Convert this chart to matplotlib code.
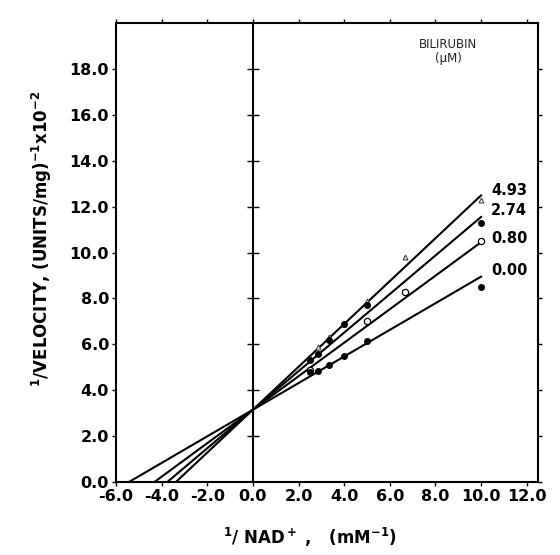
import numpy as np
import matplotlib
matplotlib.use('Agg')
import matplotlib.pyplot as plt

plt.rcParams['font.family'] = ['DejaVu Sans']
plt.rcParams['mathtext.fontset'] = 'dejavusans'
plt.rcParams['mathtext.default'] = 'bf'

# Lineweaver-Burk data (x = 1/[NAD+], y = 1/v x 10^-2)
bilirubin = ['4.93', '2.74', '0.80', '0.00']
y_intercept = 3.15
slopes = [0.934, 0.84, 0.73, 0.58]

x_493 = [2.5, 2.86, 3.33, 4.0, 5.0, 6.67, 10.0]
y_493 = [5.4, 5.9, 6.3, 6.9, 7.9, 9.8, 12.3]
x_274 = [2.5, 2.86, 3.33, 4.0, 5.0, 10.0]
y_274 = [5.3, 5.6, 6.2, 6.9, 7.7, 11.3]
x_080 = [2.5, 5.0, 6.67, 10.0]
y_080 = [4.9, 7.0, 8.3, 10.5]
x_000 = [2.5, 2.86, 3.33, 4.0, 5.0, 10.0]
y_000 = [4.8, 4.85, 5.1, 5.5, 6.15, 8.5]

label_y = [12.7, 11.85, 10.6, 9.2]

xticks = np.arange(-6, 12.1, 2)
yticks = np.arange(0, 18.1, 2)

fig = plt.figure(figsize=(5.6, 5.55), dpi=100)
ax = fig.add_axes([0.207, 0.1315, 0.754, 0.827])

# regression lines, drawn from the x intercept to x = 10
for s in slopes:
    x0 = -y_intercept / s
    xs = np.array([x0, 10.0])
    ax.plot(xs, y_intercept + s * xs, color='black', lw=1.5)

ax.plot(x_493, y_493, ls='none', marker='^', ms=3.5, mfc='white', mec='#444444', mew=0.8)
ax.plot(x_274, y_274, ls='none', marker='o', ms=4, color='black')
ax.plot(x_080, y_080, ls='none', marker='o', ms=4.5, mfc='white', mec='black', mew=0.9)
ax.plot(x_000, y_000, ls='none', marker='o', ms=4, color='black')

# vertical axis at x = 0 with crossing ticks
ax.axvline(0, color='black', lw=1.5)
ax.plot(np.zeros(len(yticks) - 1), yticks[1:], ls='none', marker='_', ms=9, mew=1, color='black')

for lab, ly in zip(bilirubin, label_y):
    ax.text(10.45, ly, lab, fontsize=10.5, fontweight='bold', ha='left', va='center')
ax.text(8.55, 18.75, 'BILIRUBIN\n(\u03bcM)', fontsize=8.5, ha='center', va='center',
        linespacing=1.15, color='#222222')

ax.set_xlim(-6, 12.5)
ax.set_ylim(0, 20)
ax.set_xticks(xticks)
ax.set_yticks(yticks)
ax.set_xticklabels([f'{v:.1f}' for v in xticks])
ax.set_yticklabels([f'{v:.1f}' for v in yticks])
ax.tick_params(direction='out', length=3, width=1, top=True, right=True,
               labelsize=11.5, pad=2)
for t in ax.get_xticklabels() + ax.get_yticklabels():
    t.set_fontweight('bold')
for sp in ax.spines.values():
    sp.set_linewidth(1.5)

ax.set_xlabel('$^1$/ NAD$^+$ ,   (mM$^{-1}$)', fontsize=12, fontweight='bold')
ax.set_ylabel('$^1$/VELOCITY, (UNITS/mg)$^{-1}$x10$^{-2}$', fontsize=12, fontweight='bold')
ax.xaxis.set_label_coords(0.46, -0.095)
ax.yaxis.set_label_coords(-0.147, 0.53)

fig.savefig('out.png', dpi=100)
